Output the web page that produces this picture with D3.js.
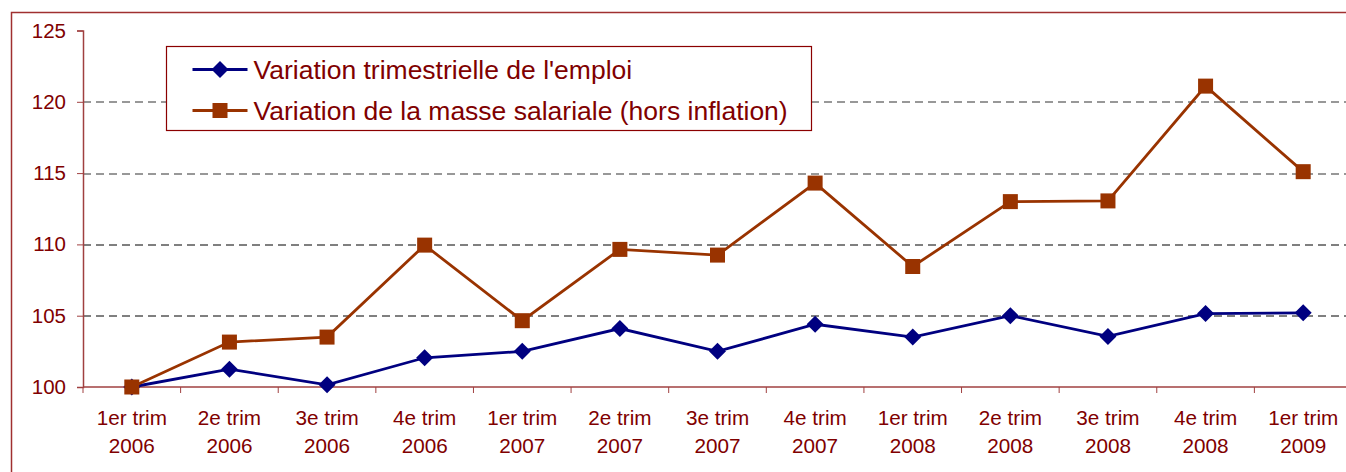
<!DOCTYPE html>
<html>
<head>
<meta charset="utf-8">
<script src="https://cdn.jsdelivr.net/npm/d3@7"></script>
<style>
  body { margin: 0; background: #fff; }
  svg { display: block; font-family: "Liberation Sans", Arial, sans-serif; }
</style>
</head>
<body>
<svg id="chart" width="1346" height="472"></svg>
<script>
// quarters on the x axis (two-line labels)
const quarters = [
  ["1er trim", "2006"], ["2e trim", "2006"], ["3e trim", "2006"], ["4e trim", "2006"],
  ["1er trim", "2007"], ["2e trim", "2007"], ["3e trim", "2007"], ["4e trim", "2007"],
  ["1er trim", "2008"], ["2e trim", "2008"], ["3e trim", "2008"], ["4e trim", "2008"],
  ["1er trim", "2009"]
];
const emploi = [100, 101.25, 100.15, 102.05, 102.5, 104.1, 102.5, 104.4, 103.5, 105.0, 103.55, 105.15, 105.2];
const masse = [100, 103.15, 103.5, 109.95, 104.65, 109.65, 109.25, 114.3, 108.45, 113.0, 113.05, 121.1, 115.1];
const yTicks = [100, 105, 110, 115, 120, 125];
const seriesNames = ["Variation trimestrielle de l'emploi", "Variation de la masse salariale (hors inflation)"];

const textColor = "#800000";
const axisColor = "#a04040";
const blue = "#000080";
const brown = "#993300";

const svg = d3.select("#chart");
const margin = { top: 30.5, left: 83, bottom: 85 };
const plotW = 1269;
const plotH = 472 - margin.top - margin.bottom;

// outer frame
svg.append("rect")
  .attr("x", 11.5).attr("y", 12.5)
  .attr("width", 1400).attr("height", 500)
  .attr("fill", "none").attr("stroke", "#a03030").attr("stroke-width", 1.5);

const g = svg.append("g").attr("transform", `translate(${margin.left},${margin.top})`);

const x = d3.scaleBand().domain(d3.range(quarters.length)).range([0, plotW]);
const y = d3.scaleLinear().domain([100, 125]).range([plotH, 0]);

// dashed gridlines (upper ones render softer grey in the original)
g.selectAll(".grid")
  .data(yTicks.filter(d => d > 100 && d < 125))
  .enter().append("line")
  .attr("x1", 0).attr("x2", plotW)
  .attr("y1", d => Math.round(y(d)) + 0.5).attr("y2", d => Math.round(y(d)) + 0.5)
  .attr("stroke", d => d >= 115 ? "#777" : "#000")
  .attr("stroke-width", d => d >= 115 ? 1.6 : 1)
  .attr("stroke-dasharray", "8,5");

// y axis
const yAxis = g.append("g")
  .call(d3.axisLeft(y).tickValues(yTicks).tickSize(6).tickPadding(11));
yAxis.select(".domain").attr("stroke", axisColor).attr("stroke-width", 1.5);
yAxis.selectAll(".tick line").attr("stroke", axisColor);
yAxis.selectAll("text").attr("fill", textColor).style("font-size", "20.5px");

// x axis line and ticks between categories
const xa = g.append("g").attr("transform", `translate(0,${plotH})`);
xa.append("line").attr("x1", 0).attr("x2", plotW)
  .attr("stroke", axisColor).attr("stroke-width", 1.5);
xa.selectAll(".xt")
  .data(d3.range(quarters.length + 1))
  .enter().append("line")
  .attr("x1", d => d * x.step()).attr("x2", d => d * x.step())
  .attr("y1", 0).attr("y2", 6)
  .attr("stroke", axisColor);
const labels = xa.selectAll(".xl")
  .data(quarters)
  .enter().append("text")
  .attr("text-anchor", "middle")
  .attr("fill", textColor)
  .style("font-size", "20.7px")
  .attr("transform", (d, i) => `translate(${x(i) + x.bandwidth() / 2},0)`);
labels.append("tspan").attr("x", 0).attr("y", 38).text(d => d[0]);
labels.append("tspan").attr("x", 0).attr("y", 66).text(d => d[1]);

const line = d3.line()
  .x((d, i) => x(i) + x.bandwidth() / 2)
  .y(d => y(d));

// emploi
g.append("path").datum(emploi)
  .attr("d", line).attr("fill", "none")
  .attr("stroke", blue).attr("stroke-width", 2.8);
g.selectAll(".dm").data(emploi).enter().append("path")
  .attr("d", "M0,-8.5L8.5,0L0,8.5L-8.5,0Z")
  .attr("transform", (d, i) => `translate(${x(i) + x.bandwidth() / 2},${y(d)})`)
  .attr("fill", blue);

// masse salariale (drawn on top)
g.append("path").datum(masse)
  .attr("d", line).attr("fill", "none")
  .attr("stroke", brown).attr("stroke-width", 2.8);
g.selectAll(".sq").data(masse).enter().append("rect")
  .attr("x", (d, i) => x(i) + x.bandwidth() / 2 - 7.5)
  .attr("y", d => y(d) - 7.5)
  .attr("width", 15).attr("height", 15)
  .attr("fill", brown);

// legend
const lg = svg.append("g").attr("transform", "translate(166.5,46.5)");
lg.append("rect").attr("width", 645).attr("height", 84)
  .attr("fill", "#fff").attr("stroke", "#8b0000").attr("stroke-width", 1.2);
const items = lg.selectAll(".li").data(seriesNames).enter().append("g")
  .attr("transform", (d, i) => `translate(0,${23 + i * 41})`);
items.append("line").attr("x1", 26).attr("x2", 81)
  .attr("stroke", (d, i) => i === 0 ? blue : brown).attr("stroke-width", 2.8);
items.each(function (d, i) {
  const it = d3.select(this);
  if (i === 0) {
    it.append("path").attr("d", "M0,-8.5L8.5,0L0,8.5L-8.5,0Z")
      .attr("transform", "translate(53.5,0)").attr("fill", blue);
  } else {
    it.append("rect").attr("x", 46).attr("y", -7.5).attr("width", 15).attr("height", 15)
      .attr("fill", brown);
  }
});
items.append("text").attr("x", 87).attr("y", 9)
  .attr("fill", textColor).style("font-size", "26.5px")
  .text(d => d);
</script>
</body>
</html>
